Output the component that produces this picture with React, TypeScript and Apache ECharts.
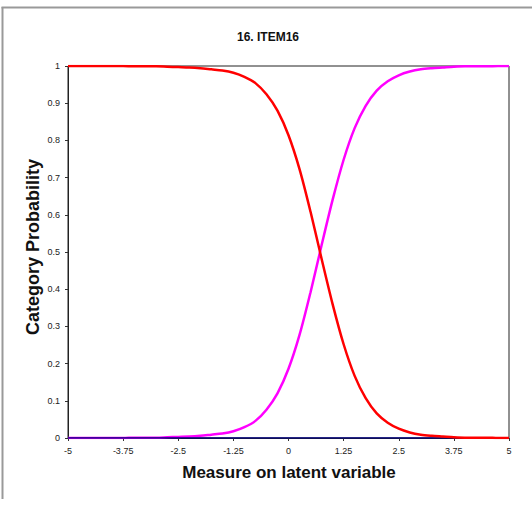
import React, { useEffect, useRef } from "react";
import * as echarts from "echarts";

const measures = [
  -5, -4.75, -4.5, -4.25, -4, -3.75, -3.5, -3.25, -3, -2.75, -2.5, -2.25, -2, -1.75, -1.5, -1.25,
  -1, -0.75, -0.5, -0.25, 0, 0.25, 0.5, 0.75, 1, 1.25, 1.5, 1.75, 2, 2.25, 2.5, 2.75, 3, 3.25,
  3.5, 3.75, 4, 4.25, 4.5, 4.75, 5,
];

const category0 = [
  1.0, 1.0, 1.0, 1.0, 1.0, 1.0, 0.999, 0.999, 0.999, 0.998, 0.997, 0.996, 0.994, 0.991, 0.988,
  0.982, 0.971, 0.954, 0.924, 0.88, 0.814, 0.723, 0.608, 0.482, 0.36, 0.252, 0.167, 0.107, 0.066,
  0.041, 0.025, 0.015, 0.009, 0.006, 0.004, 0.002, 0.001, 0.001, 0.001, 0.0, 0.0,
];

const category1 = [
  0.0, 0.0, 0.0, 0.0, 0.0, 0.0, 0.001, 0.001, 0.001, 0.002, 0.003, 0.004, 0.006, 0.009, 0.012,
  0.018, 0.029, 0.046, 0.076, 0.12, 0.186, 0.277, 0.392, 0.518, 0.64, 0.748, 0.833, 0.893, 0.934,
  0.959, 0.975, 0.985, 0.991, 0.994, 0.996, 0.998, 0.999, 0.999, 0.999, 1.0, 1.0,
];

const baseline = [
  0, 0, 0, 0, 0, 0, 0, 0, 0, 0, 0, 0, 0, 0, 0, 0, 0, 0, 0, 0, 0, 0, 0, 0, 0, 0, 0, 0, 0, 0, 0, 0,
  0, 0, 0, 0, 0, 0, 0, 0, 0,
];

const title = "16. ITEM16";
const xTitle = "Measure on latent variable";
const yTitle = "Category Probability";

const pairs = (ys: number[]) => measures.map((x, i) => [x, ys[i]]);

export default function App() {
  const ref = useRef<HTMLDivElement>(null);
  useEffect(() => {
    if (!ref.current) return;
    const chart = echarts.init(ref.current, null, { renderer: "svg" });
    const font = "'Liberation Sans', Arial, sans-serif";
    chart.setOption({
      animation: false,
      backgroundColor: "#ffffff",
      textStyle: { fontFamily: font },
      title: {
        text: title,
        left: 263,
        top: 26,
        textAlign: "center",
        textStyle: { fontFamily: font, fontSize: 12, fontWeight: "bold", color: "#111" },
      },
      graphic: [
        {
          type: "line",
          shape: { x1: 2.5, y1: 7, x2: 2.5, y2: 499 },
          style: { stroke: "#999999", lineWidth: 2 },
        },
        {
          type: "line",
          shape: { x1: 1.5, y1: 7.5, x2: 532, y2: 7.5 },
          style: { stroke: "#999999", lineWidth: 2 },
        },
        {
          type: "text",
          x: 289,
          y: 472,
          style: {
            text: xTitle,
            fontFamily: font,
            fontSize: 17,
            fontWeight: "bold",
            fill: "#111",
            textAlign: "center",
            textVerticalAlign: "middle",
          },
        },
        {
          type: "text",
          x: 33,
          y: 247,
          rotation: Math.PI / 2,
          style: {
            text: yTitle,
            fontFamily: font,
            fontSize: 18,
            fontWeight: "bold",
            fill: "#111",
            textAlign: "center",
            textVerticalAlign: "middle",
          },
        },
      ],
      grid: {
        left: 68,
        right: 23,
        top: 66,
        bottom: 70,
        show: true,
        borderColor: "#222",
        borderWidth: 1,
        backgroundColor: "#ffffff",
      },
      xAxis: {
        type: "value",
        min: -5,
        max: 5,
        interval: 1.25,
        axisLine: { show: true, onZero: false, lineStyle: { color: "#222", width: 1 } },
        axisTick: { show: true, length: 3, lineStyle: { color: "#333" } },
        axisLabel: { fontSize: 9, color: "#222", margin: 8, fontFamily: font },
        splitLine: { show: false },
      },
      yAxis: {
        type: "value",
        min: 0,
        max: 1,
        interval: 0.1,
        axisLine: { show: true, onZero: false, lineStyle: { color: "#222", width: 1 } },
        axisTick: { show: true, length: 3, lineStyle: { color: "#333" } },
        axisLabel: { fontSize: 9, color: "#222", margin: 8, fontFamily: font },
        splitLine: { show: false },
      },
      series: [
        {
          type: "line",
          name: "1",
          data: pairs(category1),
          smooth: 0.3,
          showSymbol: false,
          lineStyle: { color: "#ff00ff", width: 2.5 },
          itemStyle: { color: "#ff00ff" },
        },
        {
          type: "line",
          name: "base",
          data: pairs(baseline),
          showSymbol: false,
          lineStyle: { color: "#000080", width: 1.5 },
          itemStyle: { color: "#000080" },
        },
        {
          type: "line",
          name: "0",
          data: pairs(category0),
          smooth: 0.3,
          showSymbol: false,
          lineStyle: { color: "#ff0000", width: 2.5 },
          itemStyle: { color: "#ff0000" },
        },
      ],
    });
    return () => chart.dispose();
  }, []);
  return (
    <div
      ref={ref}
      style={{ position: "fixed", left: 0, top: 0, width: 532, height: 508 }}
    />
  );
}
